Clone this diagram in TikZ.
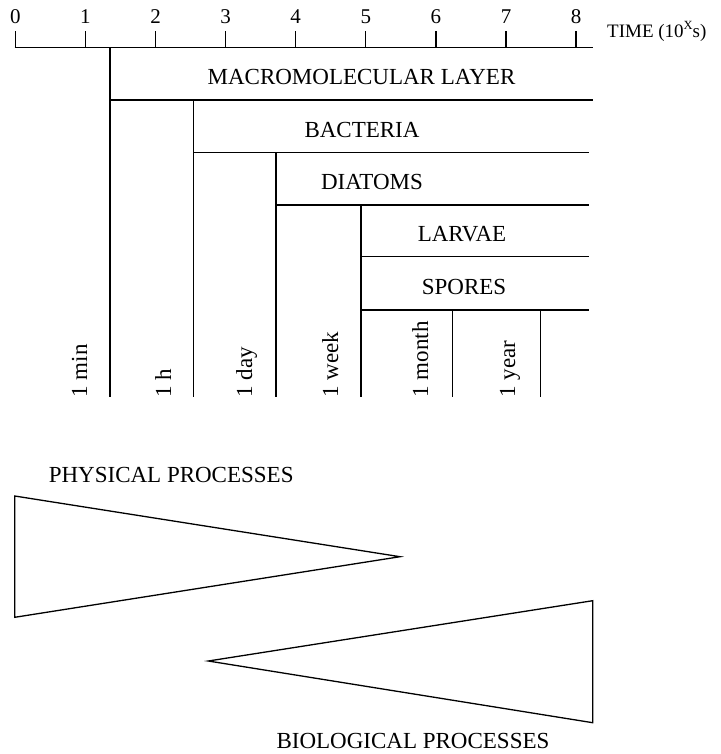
\documentclass[tikz,border=0pt]{standalone}
\usepackage{fontspec}
\setmainfont{Liberation Serif}
\begin{document}
\begin{tikzpicture}[x=1bp,y=-1bp,
  rule/.style={line width=1.3bp},
  bandlabel/.style={font=\fontsize{23bp}{27bp}\selectfont, inner sep=0pt, anchor=base},
  ticklabel/.style={font=\fontsize{21bp}{25bp}\selectfont, inner sep=0pt, anchor=base},
  axislabel/.style={font=\fontsize{19bp}{22bp}\selectfont, inner sep=0pt, anchor=base west},
  periodlabel/.style={font=\fontsize{23bp}{27bp}\selectfont, inner sep=0pt, anchor=base west, rotate=90},
]
\useasboundingbox (0,0) rectangle (721,754);

% time axis with decade ticks
\coordinate (axisL) at (14.7,47.7);
\coordinate (axisR) at (593.3,47.7);
\draw[rule] (axisL) -- (axisR);
\foreach \i in {0,...,8} {
  \coordinate (t\i) at ({15.3+70.1*\i},47.7);
  \draw[rule] (t\i) -- ++(0,-16.5);
  \node[ticklabel] (n\i) at ({15.3+70.1*\i},24) {\i};
}
\node[axislabel] (timelbl) at (607,37.7)
  {TIME (10\raisebox{0.42em}{\fontsize{12.5bp}{13bp}\selectfont X}s)};

% staircase of colonisation stages
\coordinate (macroTop) at (110,47.7);
\coordinate (macroBot) at (110,397);
\coordinate (bactTop) at (193.3,100);
\coordinate (bactBot) at (193.3,397);
\coordinate (diatTop) at (276,152.7);
\coordinate (diatBot) at (276,397);
\coordinate (larvTop) at (361,205);
\coordinate (larvBot) at (361,397);
\coordinate (monTop) at (452.7,310);
\coordinate (monBot) at (452.7,397);
\coordinate (yrTop) at (540.5,310);
\coordinate (yrBot) at (540.5,397);

\draw[rule] (macroTop) -- (macroBot);
\draw[rule] (bactTop) -- (bactBot);
\draw[rule] (diatTop) -- (diatBot);
\draw[rule] (larvTop) -- (larvBot);
\draw[rule] (monTop) -- (monBot);
\draw[rule] (yrTop) -- (yrBot);

\coordinate (r1) at (593.3,100);
\coordinate (r2) at (589.3,152.7);
\coordinate (r3) at (589.3,205);
\coordinate (r4) at (589.3,256.7);
\coordinate (r5) at (589.3,310);
\draw[rule] (macroTop |- r1) -- (r1);
\draw[rule] (bactTop |- r2) -- (r2);
\draw[rule] (diatTop |- r3) -- (r3);
\draw[rule] (larvTop |- r4) -- (r4);
\draw[rule] (larvTop |- r5) -- (r5);

\node[bandlabel] (macro) at (361.5,84.3) {MACROMOLECULAR LAYER};
\node[bandlabel] (bact) at (362,137.5) {BACTERIA};
\node[bandlabel] (diat) at (372,189.5) {DIATOMS};
\node[bandlabel] (larv) at (462,241.5) {LARVAE};
\node[bandlabel] (spor) at (464,294.5) {SPORES};

% time-scale reference marks
\node[periodlabel] (pmin) at (87,397.5) {1 min};
\node[periodlabel] (ph) at (171,397.5) {1 h};
\node[periodlabel] (pday) at (252,397.5) {1 day};
\node[periodlabel] (pweek) at (338,397.5) {1 week};
\node[periodlabel] (pmonth) at (428,397.5) {1 month};
\node[periodlabel] (pyear) at (515,397.5) {1 year};

% process wedges
\node[bandlabel] (phys) at (171.2,482.7) {PHYSICAL PROCESSES};
\coordinate (pA) at (14.7,496);
\coordinate (pB) at (400,556.7);
\coordinate (pC) at (14.7,617.3);
\draw[rule, line join=miter] (pA) -- (pB) -- (pC) -- cycle;

\coordinate (bA) at (592.7,600.7);
\coordinate (bB) at (208.3,661);
\coordinate (bC) at (592.7,722.7);
\draw[rule, line join=miter] (bA) -- (bB) -- (bC) -- cycle;
\node[bandlabel] (biol) at (413,748) {BIOLOGICAL PROCESSES};
\end{tikzpicture}
\end{document}
